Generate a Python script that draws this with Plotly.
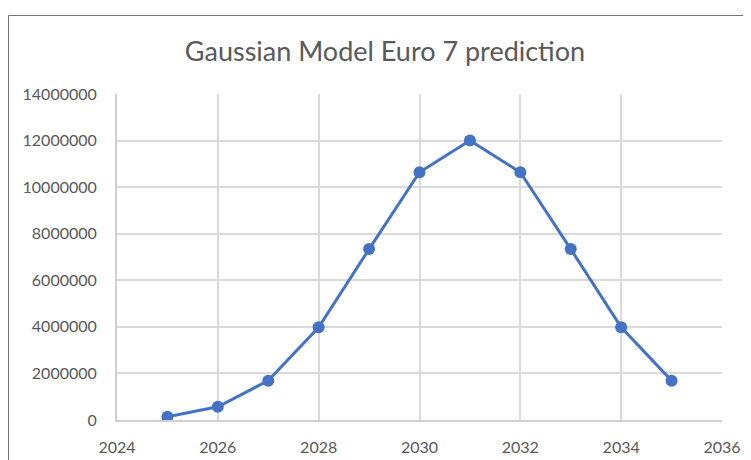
import plotly.graph_objects as go

years = [2025, 2026, 2027, 2028, 2029, 2030, 2031, 2032, 2033, 2034, 2035]
vehicles = [140000, 570000, 1690000, 3980000, 7340000, 10640000, 12000000, 10640000, 7340000, 3980000, 1690000]
x_ticks = [2024, 2026, 2028, 2030, 2032, 2034, 2036]
y_ticks = [0, 2000000, 4000000, 6000000, 8000000, 10000000, 12000000, 14000000]
title_text = "Gaussian Model Euro 7 prediction"

# the page body adds an 8px offset; work in screen pixels and shift
OFF = 8
W, H = 751 - OFF, 460 - OFF
L, R, T, B = 117 - OFF, 722 - OFF, 94 - OFF, 420 - OFF

fig = go.Figure()
fig.add_trace(go.Scatter(
    x=years, y=vehicles, mode="lines+markers",
    line=dict(color="#4472c4", width=3),
    marker=dict(color="#4472c4", size=12),
    showlegend=False, hoverinfo="x+y",
))

font_fam = "Lato, 'Open Sans', sans-serif"
fig.update_layout(
    width=W, height=H,
    margin=dict(l=L, r=W - R, t=T, b=H - B, autoexpand=False),
    paper_bgcolor="white", plot_bgcolor="white",
    font=dict(family=font_fam, color="#595959", size=16),
    title=dict(text=title_text, x=(385 - OFF) / W, xanchor="center",
               y=1 - (52 - OFF) / H, yanchor="middle",
               font=dict(size=27, color="#595959", family=font_fam)),
)
fig.update_xaxes(
    range=[2024, 2036], tickvals=x_ticks, ticktext=[str(v) for v in x_ticks],
    showgrid=True, gridcolor="#dadada", gridwidth=1.8,
    zeroline=False, showline=True, linecolor="#d0d0d0", linewidth=2,
    ticks="", ticklabelstandoff=12, tickfont=dict(size=16, color="#595959"),
    automargin=False,
)
fig.update_yaxes(
    range=[0, 14000000], tickvals=y_ticks, ticktext=[str(v) for v in y_ticks],
    showgrid=True, gridcolor="#dadada", gridwidth=1.8,
    zeroline=False, showline=True, linecolor="#d0d0d0", linewidth=2,
    ticks="", ticklabelstandoff=15, tickfont=dict(size=16, color="#595959"),
    automargin=False,
)

def px_x(p):
    return (p - OFF - L) / (R - L)

def px_y(p):
    return (B - (p - OFF)) / (B - T)

# chart frame (left and top edges visible)
fig.add_shape(type="line", xref="paper", yref="paper",
              x0=px_x(8.5), x1=px_x(8.5), y0=px_y(15.5), y1=px_y(470),
              line=dict(color="#767676", width=1))
fig.add_shape(type="line", xref="paper", yref="paper",
              x0=px_x(8.5), x1=px_x(760), y0=px_y(15.5), y1=px_y(15.5),
              line=dict(color="#767676", width=1))

fig.write_html("out.html")
